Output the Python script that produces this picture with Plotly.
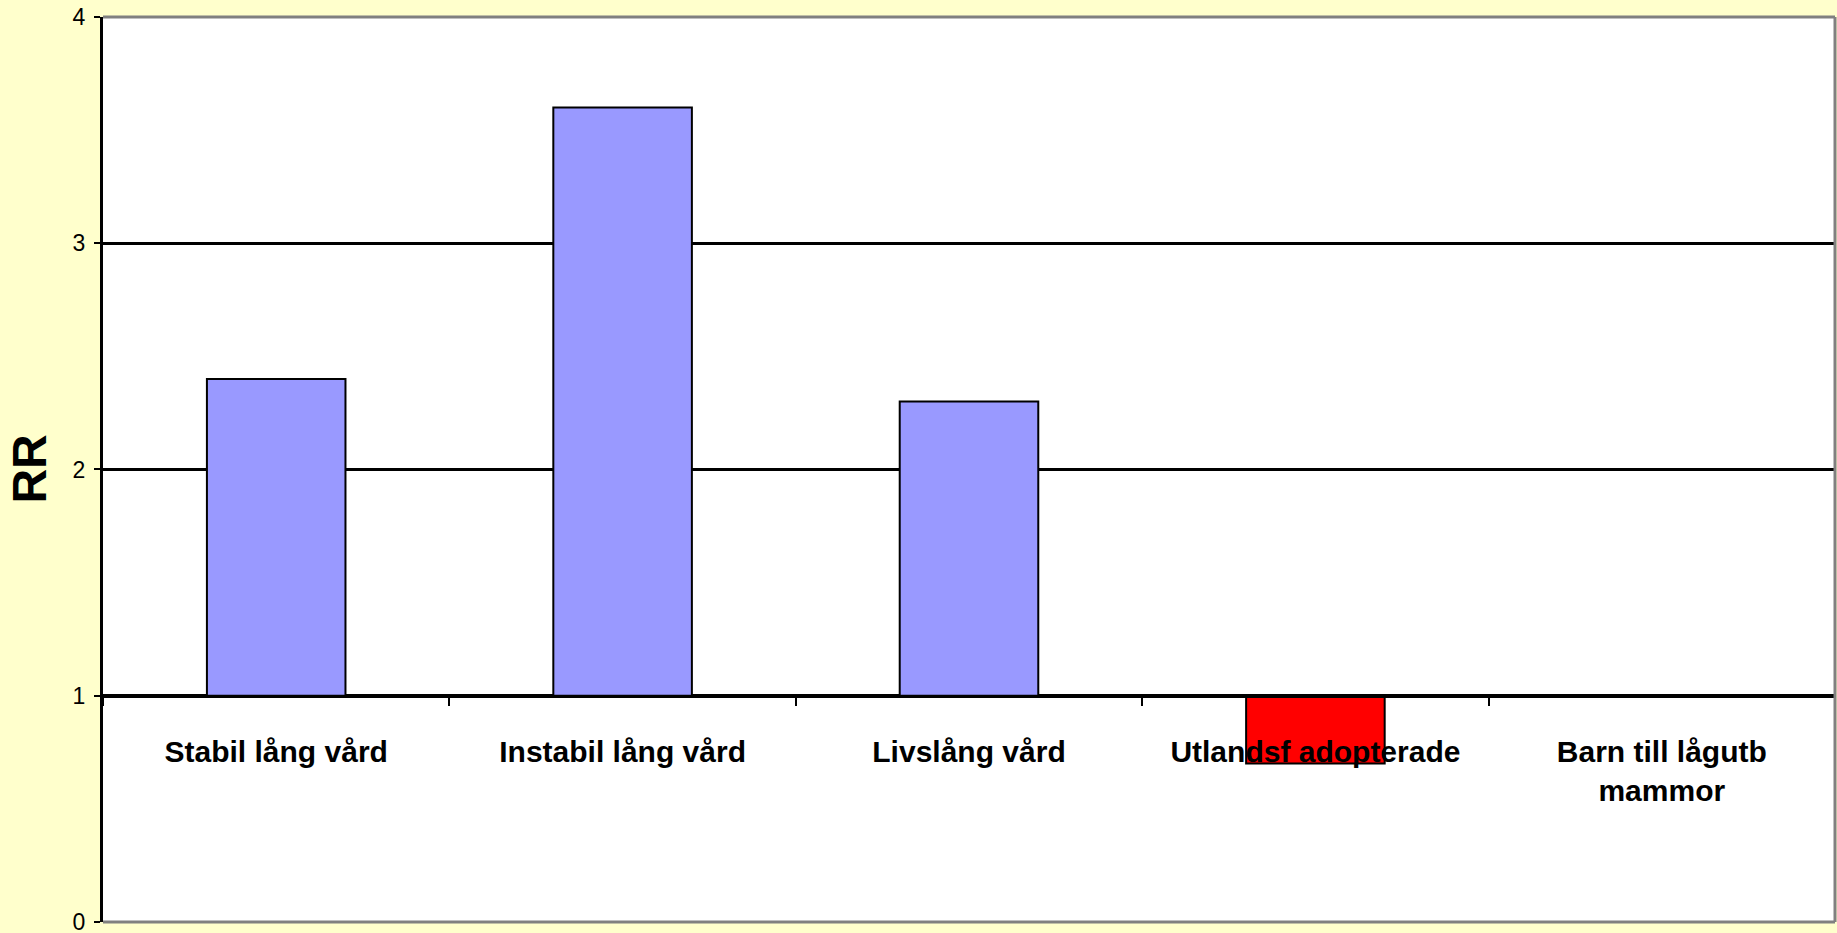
import plotly.graph_objects as go

categories = ["Stabil lång vård", "Instabil lång vård", "Livslång vård",
              "Utlandsf adopterade", "Barn till lågutb<br>mammor"]
rr_values = [2.4, 3.6, 2.3, 0.7, 1.0]
bar_colors = ["#9999FF", "#9999FF", "#9999FF", "#FF0000", "#9999FF"]
baseline = 1
y_ticks = [0, 1, 2, 3, 4]

sans = "Liberation Sans, Arial, sans-serif"

fig = go.Figure()
fig.add_trace(go.Bar(
    x=categories,
    y=[v - baseline for v in rr_values],
    base=baseline,
    marker=dict(color=bar_colors, line=dict(color="black", width=2)),
    showlegend=False,
))

fig.update_layout(
    width=1837, height=933,
    margin=dict(l=103, r=2, t=17, b=11, autoexpand=False),
    paper_bgcolor="#FFFFCC",
    plot_bgcolor="white",
    bargap=0.6,
    xaxis=dict(
        anchor="free", position=0.25, automargin=False,
        showline=True, linecolor="black", linewidth=3,
        ticks="outside", tickson="boundaries", ticklen=8, tickwidth=2, tickcolor="black",
        showgrid=False, zeroline=False, tickangle=0,
        tickfont=dict(family=sans, size=30, color="black", weight="bold"),
        ticklabelstandoff=28,
    ),
    yaxis=dict(
        range=[-0.0005, 4], tickvals=y_ticks, automargin=False,
        showline=True, linecolor="black", linewidth=3,
        ticks="outside", ticklen=6, tickwidth=2, tickcolor="black",
        showgrid=True, gridcolor="black", gridwidth=2.5,
        zeroline=False, ticklabeloverflow="allow",
        tickfont=dict(family=sans, size=23, color="black"),
        ticklabelstandoff=4,
    ),
    annotations=[dict(
        text="<b>RR</b>", textangle=-90, showarrow=False,
        xref="paper", yref="paper", x=-0.0427, y=0.5,
        xanchor="center", yanchor="middle",
        font=dict(family=sans, size=48, color="black"),
    )],
    shapes=[
        dict(type="line", xref="paper", yref="paper", x0=0, x1=1, y0=1, y1=1,
             line=dict(color="#808080", width=3), layer="above"),
        dict(type="line", xref="paper", yref="paper", x0=1, x1=1, y0=0, y1=1,
             line=dict(color="#808080", width=3), layer="above"),
        dict(type="line", xref="paper", yref="paper", x0=0, x1=1, y0=0, y1=0,
             line=dict(color="#808080", width=3), layer="above"),
    ],
)

fig.write_html(
    "out.html",
    config={"displayModeBar": False},
    post_script="document.body.style.margin='0';document.body.style.overflow='hidden';",
)
